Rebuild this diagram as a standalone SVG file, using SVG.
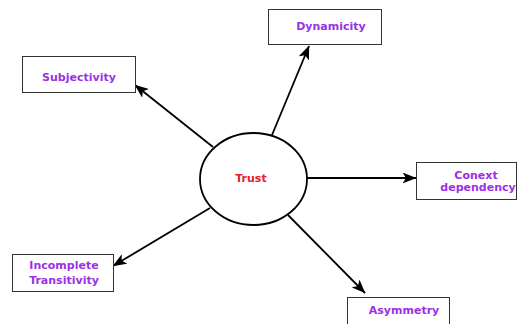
<svg xmlns="http://www.w3.org/2000/svg" width="518" height="324" viewBox="0 0 518 324">
<style>
.box{fill:#fff;stroke:#333;stroke-width:1}
.lbl{font-family:"DejaVu Sans",Verdana,sans-serif;font-weight:bold;font-size:11px;fill:#9b30e6;text-anchor:middle}
.trust{font-family:"DejaVu Sans",Verdana,sans-serif;font-weight:bold;font-size:11px;fill:#e8202a;text-anchor:middle}
.edge{stroke:#000;stroke-width:1.8;fill:none;marker-end:url(#ah)}
</style>
<defs>
<marker id="ah" viewBox="0 0 14 11" refX="13.5" refY="5.5" markerWidth="14" markerHeight="11" markerUnits="userSpaceOnUse" orient="auto">
<path d="M0,0 L14,5.5 L0,11 L3.5,5.5 Z" fill="#000"/>
</marker>
</defs>
<rect width="518" height="324" fill="#fff"/>
<g id="connectors">
<line class="edge" x1="272" y1="135" x2="309" y2="46"/>
<line class="edge" x1="213" y1="147" x2="135" y2="85"/>
<line class="edge" x1="307" y1="178" x2="416" y2="178"/>
<line class="edge" x1="210" y1="208" x2="113" y2="266"/>
<line class="edge" x1="288" y1="215" x2="365" y2="293"/>
</g>
<g id="trust">
<ellipse cx="253.5" cy="179" rx="53.5" ry="46" fill="#fff" stroke="#000" stroke-width="1.8"/>
<text class="trust" x="251" y="182">Trust</text>
</g>
<g id="dynamicity">
<rect class="box" x="268.5" y="9.5" width="113" height="35"/>
<text class="lbl" x="331" y="30">Dynamicity</text>
</g>
<g id="subjectivity">
<rect class="box" x="22.5" y="56.5" width="113" height="36"/>
<text class="lbl" x="79" y="81">Subjectivity</text>
</g>
<g id="context">
<rect class="box" x="416.5" y="162.5" width="100" height="37"/>
<text class="lbl" x="476" y="179">Conext</text>
<text class="lbl" x="478" y="191">dependency</text>
</g>
<g id="incomplete">
<rect class="box" x="12.5" y="254.5" width="101" height="37"/>
<text class="lbl" x="64" y="269">Incomplete</text>
<text class="lbl" x="64" y="284">Transitivity</text>
</g>
<g id="asymmetry">
<rect class="box" x="347.5" y="297.5" width="102" height="30"/>
<text class="lbl" x="404" y="314">Asymmetry</text>
</g>
</svg>
